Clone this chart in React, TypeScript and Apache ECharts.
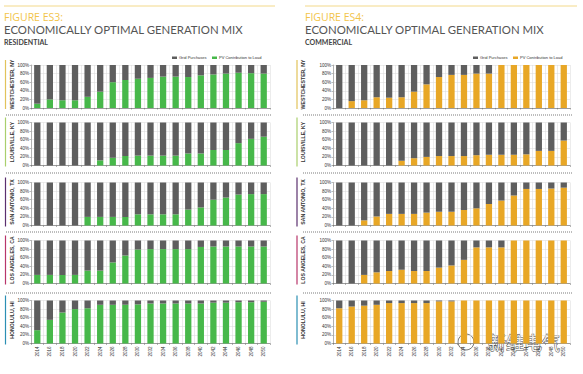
import React, { useEffect, useRef } from "react";
import * as echarts from "echarts";

const years = ["2014","2016","2018","2020","2022","2024","2026","2028","2030","2032","2034","2036","2038","2040","2042","2044","2046","2048","2050"];
const cities = ["WESTCHESTER, NY", "LOUISVILLE, KY", "SAN ANTONIO, TX", "LOS ANGELES, CA", "HONOLULU, HI"];
const cityColors = ["#e2c35a", "#a9cf6c", "#5b2f6e", "#b8356a", "#2b8fb3"];
const yTicks = [0, 20, 40, 60, 80, 100];

// Residential: PV contribution to load (%)
const resWestchester = [10, 20, 18, 18, 26, 38, 60, 65, 68, 70, 73, 73, 72, 76, 78, 80, 82, 81, 80];
const resLouisville = [0, 0, 0, 0, 0, 12, 18, 22, 23, 23, 23, 23, 28, 28, 36, 36, 52, 62, 67];
const resSanAntonio = [0, 0, 0, 0, 20, 20, 20, 20, 26, 26, 26, 26, 37, 42, 60, 65, 72, 73, 73];
const resLosAngeles = [20, 20, 20, 20, 30, 30, 49, 65, 79, 80, 80, 80, 80, 85, 86, 86, 86, 86, 86];
const resHonolulu = [31, 55, 72, 80, 82, 90, 90, 90, 91, 93, 93, 93, 93, 93, 95, 95, 96, 96, 97];

// Commercial: PV contribution to load (%)
const comWestchester = [0, 16, 18, 25, 24, 25, 38, 55, 72, 77, 77, 80, 80, 100, 100, 100, 100, 100, 100];
const comLouisville = [0, 0, 0, 0, 0, 11, 17, 20, 22, 22, 22, 24, 25, 25, 25, 26, 34, 34, 58];
const comSanAntonio = [0, 0, 12, 21, 27, 27, 27, 30, 32, 32, 36, 40, 50, 58, 70, 85, 85, 86, 88];
const comLosAngeles = [0, 0, 20, 26, 29, 32, 29, 29, 37, 42, 55, 84, 84, 84, 100, 100, 100, 100, 100];
const comHonolulu = [82, 86, 88, 90, 94, 94, 94, 94, 98, 98, 100, 100, 100, 100, 100, 100, 100, 100, 100];

const resData = [resWestchester, resLouisville, resSanAntonio, resLosAngeles, resHonolulu];
const comData = [comWestchester, comLouisville, comSanAntonio, comLosAngeles, comHonolulu];

const GRAY = "#5e5e5e";
const GREEN = "#47b84a";
const ORANGE = "#e8a726";

const panelTops = [65, 122.5, 182.5, 240.5, 300.5];
const panelH = 43;
const separators = [115, 173, 232, 293];

export default function App() {
  const ref = useRef<HTMLDivElement>(null);
  useEffect(() => {
    if (!ref.current) return;
    const chart = echarts.init(ref.current, null, { renderer: "svg" });
    const grids: any[] = [];
    const xAxes: any[] = [];
    const yAxes: any[] = [];
    const series: any[] = [];
    const graphic: any[] = [];
    const sides = [
      { left: 31, width: 239, data: resData, color: GREEN, labelX: 12, lineX: 5.5, sepX1: 6, sepX2: 272, name: "res" },
      { left: 333, width: 237, data: comData, color: ORANGE, labelX: 303, lineX: 297, sepX1: 303, sepX2: 572, name: "com" },
    ];
    let gi = 0;
    sides.forEach((side) => {
      side.data.forEach((pv, p) => {
        grids.push({ left: side.left, width: side.width, top: panelTops[p], height: panelH });
        xAxes.push({
          type: "category",
          gridIndex: gi,
          data: years,
          axisLine: { lineStyle: { color: "#666", width: 0.6 } },
          axisTick: { show: true, length: 1.5, lineStyle: { color: "#666", width: 0.5 } },
          axisLabel: {
            show: p === 4,
            rotate: 90,
            fontSize: 4.5,
            color: "#333",
            fontFamily: "Liberation Sans",
            margin: 3,
          },
          splitLine: { show: true, lineStyle: { color: "#d8d8d8", width: 0.5 } },
        });
        yAxes.push({
          type: "value",
          gridIndex: gi,
          min: 0,
          max: 100,
          interval: 20,
          axisLine: { show: true, lineStyle: { color: "#777", width: 0.5 } },
          axisTick: { show: true, length: 1.5, lineStyle: { color: "#777", width: 0.5 } },
          axisLabel: {
            fontSize: 4.5,
            color: "#333",
            fontFamily: "Liberation Sans",
            margin: 2,
            formatter: (v: number) => (yTicks.includes(v) ? v + "%" : ""),
          },
          splitLine: { show: true, lineStyle: { color: "#d8d8d8", width: 0.5 } },
        });
        series.push({
          type: "bar",
          name: "PV Contribution to Load",
          xAxisIndex: gi,
          yAxisIndex: gi,
          stack: side.name + p,
          barWidth: 6.3,
          itemStyle: { color: side.color },
          data: pv,
        });
        series.push({
          type: "bar",
          name: "Grid Purchases",
          xAxisIndex: gi,
          yAxisIndex: gi,
          stack: side.name + p,
          barWidth: 6.3,
          itemStyle: { color: GRAY },
          data: pv.map((v) => 100 - v),
        });
        const cy = panelTops[p] + panelH / 2;
        graphic.push({
          type: "line",
          shape: { x1: side.lineX, y1: panelTops[p] - 5, x2: side.lineX, y2: panelTops[p] + panelH + 1 },
          style: { stroke: cityColors[p], lineWidth: 1.2 },
        });
        graphic.push({
          type: "text",
          x: side.labelX,
          y: cy - 2,
          rotation: Math.PI / 2,
          style: {
            text: cities[p],
            fontSize: 5.2,
            fontWeight: "bold",
            fontFamily: "Liberation Sans",
            fill: "#333",
            align: "center",
            verticalAlign: "middle",
          },
        });
        gi++;
      });
      separators.forEach((sy) => {
        graphic.push({
          type: "line",
          shape: { x1: side.sepX1, y1: sy, x2: side.sepX2, y2: sy },
          style: { stroke: "#444", lineWidth: 0.7, lineDash: [1, 1] },
        });
      });
    });

    const headers = [
      { x: 4, lineX2: 275, fig: "FIGURE ES3:", sub: "RESIDENTIAL", legX: 172, col: GREEN },
      { x: 305, lineX2: 577, fig: "FIGURE ES4:", sub: "COMMERCIAL", legX: 473, col: ORANGE },
    ];
    headers.forEach((h) => {
      graphic.push({
        type: "line",
        shape: { x1: h.x, y1: 6, x2: h.lineX2, y2: 6 },
        style: { stroke: "#f3d98a", lineWidth: 1 },
      });
      graphic.push({
        type: "text", x: h.x, y: 17,
        style: { text: h.fig, fontSize: 10.5, fontFamily: "Open Sans", fill: "#f2c44a", verticalAlign: "middle" },
      });
      graphic.push({
        type: "text", x: h.x, y: 29.5,
        style: { text: "ECONOMICALLY OPTIMAL GENERATION MIX", fontSize: 11.4, fontFamily: "Lato", fill: "#555", verticalAlign: "middle" },
      });
      graphic.push({
        type: "text", x: h.x, y: 42,
        style: { text: h.sub, fontSize: 7, fontWeight: "bold", fontFamily: "Lato", fill: "#444", verticalAlign: "middle" },
      });
      graphic.push({ type: "rect", shape: { x: h.legX, y: 56.5, width: 5, height: 2.5 }, style: { fill: GRAY } });
      graphic.push({
        type: "text", x: h.legX + 7, y: 57.8,
        style: { text: "Grid Purchases", fontSize: 4, fontFamily: "Liberation Sans", fill: "#333", verticalAlign: "middle" },
      });
      graphic.push({ type: "rect", shape: { x: h.legX + 40, y: 56.5, width: 5, height: 2.5 }, style: { fill: h.col } });
      graphic.push({
        type: "text", x: h.legX + 47, y: 57.8,
        style: { text: "PV Contribution to Load", fontSize: 4, fontFamily: "Liberation Sans", fill: "#333", verticalAlign: "middle" },
      });
    });

    // watermark
    graphic.push({
      type: "circle",
      shape: { cx: 466, cy: 342, r: 8 },
      style: { fill: "rgba(255,255,255,0.85)", stroke: "#666", lineWidth: 0.9 },
    });
    graphic.push({
      type: "text", x: 488, y: 342,
      style: {
        text: "新维电气", fontSize: 18, fontFamily: "Noto Sans CJK SC",
        fill: "rgba(255,255,255,0.95)", stroke: "#555", lineWidth: 1, verticalAlign: "middle",
      },
    });

    chart.setOption({
      animation: false,
      backgroundColor: "#ffffff",
      grid: grids,
      xAxis: xAxes,
      yAxis: yAxes,
      series,
      graphic,
    });
    return () => chart.dispose();
  }, []);
  return <div ref={ref} style={{ position: "fixed", left: 0, top: 0, width: 583, height: 374 }} />;
}
